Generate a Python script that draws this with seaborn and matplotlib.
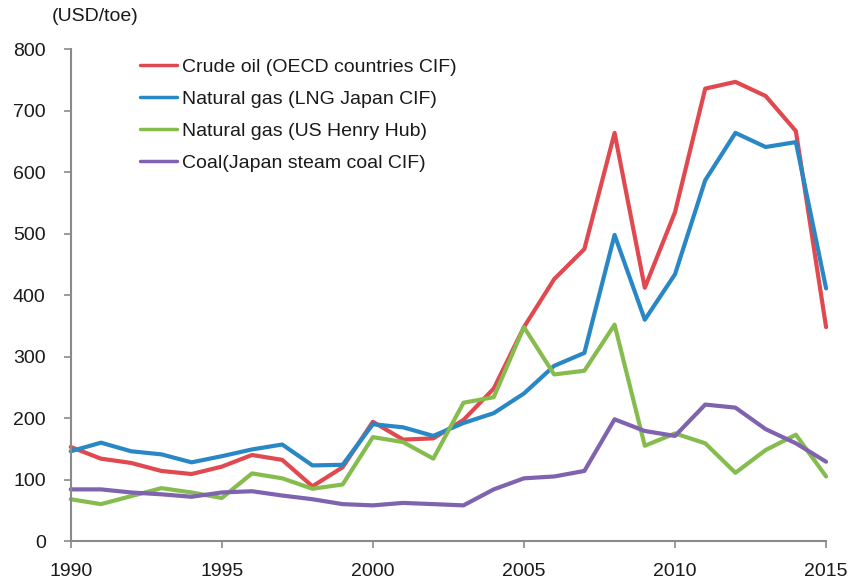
import matplotlib
matplotlib.use("Agg")
import matplotlib.pyplot as plt
import seaborn as sns
import pandas as pd

# data
years = list(range(1990, 2016))
crude_oil = [153, 134, 127, 114, 109, 121, 140, 132, 89, 120,
             194, 165, 167, 197, 248, 348, 426, 475, 664, 412,
             535, 736, 747, 724, 667, 348]
lng_japan = [146, 160, 146, 141, 128, 138, 149, 157, 123, 124,
             190, 185, 171, 192, 208, 240, 285, 306, 498, 360,
             434, 587, 664, 641, 649, 411]
henry_hub = [68, 60, 73, 86, 79, 70, 110, 102, 85, 92,
             169, 161, 134, 225, 234, 348, 271, 277, 352, 155,
             175, 159, 111, 148, 173, 105]
coal_japan = [84, 84, 79, 76, 72, 79, 81, 74, 68, 60,
              58, 62, 60, 58, 84, 102, 105, 114, 198, 179,
              171, 222, 217, 182, 159, 129]

series_names = ["Crude oil (OECD countries CIF)",
                "Natural gas (LNG Japan CIF)",
                "Natural gas (US Henry Hub)",
                "Coal(Japan steam coal CIF)"]
colors = ["#E0494F", "#2A87C6", "#86BC4E", "#7F63AE"]

df = pd.DataFrame({"Year": years,
                   series_names[0]: crude_oil,
                   series_names[1]: lng_japan,
                   series_names[2]: henry_hub,
                   series_names[3]: coal_japan})
df_long = df.melt(id_vars="Year", var_name="Series", value_name="Price")

sns.set_style("white")
plt.rcParams["font.family"] = ["Liberation Sans", "DejaVu Sans"]

fig = plt.figure(figsize=(8.49, 5.84), dpi=100)
ax = fig.add_axes([0.0833, 0.0736, 0.8897, 0.842])

sns.lineplot(data=df_long, x="Year", y="Price", hue="Series",
             hue_order=series_names, palette=colors, linewidth=3,
             ax=ax)
for line in ax.get_lines():
    line.set_clip_on(False)

ax.set_xlim(1990, 2015)
ax.set_ylim(0, 800)
ax.set_xticks([1990, 1995, 2000, 2005, 2010, 2015])
ax.set_yticks(range(0, 801, 100))
ax.set_xlabel("")
ax.set_ylabel("")

axis_grey = "#8A8A8A"
for side in ["top", "right"]:
    ax.spines[side].set_visible(False)
for side in ["left", "bottom"]:
    ax.spines[side].set_color(axis_grey)
    ax.spines[side].set_linewidth(1.5)
ax.tick_params(axis="both", direction="out", length=5, width=1.2,
               color=axis_grey, labelsize=14, labelcolor="#1a1a1a")
ax.tick_params(axis="y", pad=13)
ax.tick_params(axis="x", pad=11)
ax.tick_params(left=True, bottom=True)

leg = ax.legend(loc="upper left", bbox_to_anchor=(0.082, 0.998),
                frameon=False, fontsize=14, handlelength=1.9,
                handletextpad=0.25, labelspacing=0.75, borderaxespad=0)
for line in leg.get_lines():
    line.set_linewidth(2.5)
for text in leg.get_texts():
    text.set_color("#1a1a1a")

fig.text(0.061, 0.971, "(USD/toe)", fontsize=14, color="#1a1a1a",
         ha="left", va="center")

fig.savefig("out.png", dpi=100)
